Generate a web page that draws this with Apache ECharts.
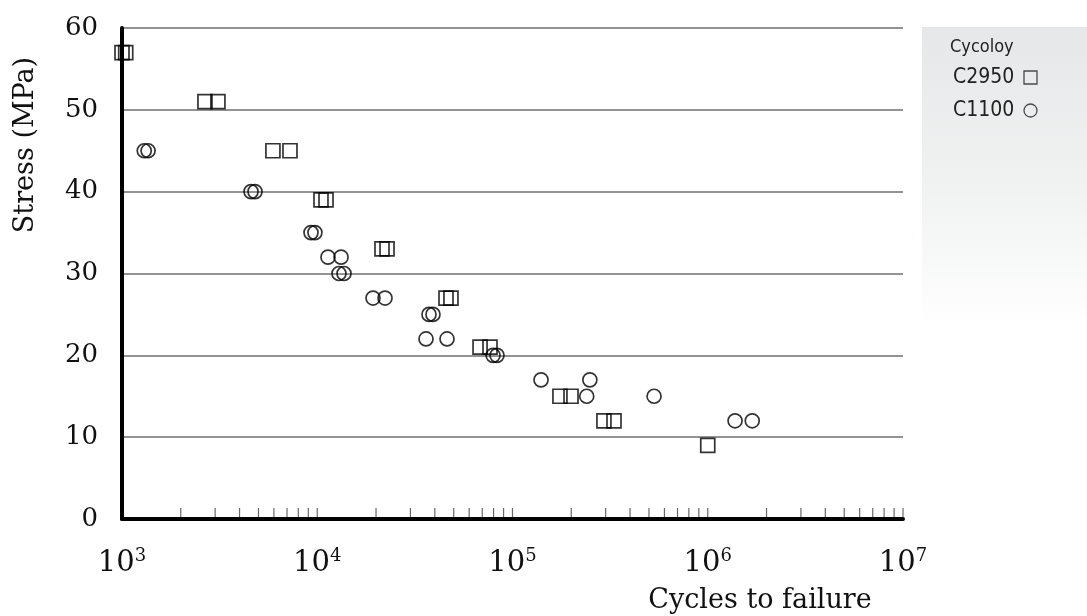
<!DOCTYPE html>
<html>
<head>
<meta charset="utf-8">
<script src="https://cdn.jsdelivr.net/npm/echarts@6/dist/echarts.min.js"></script>
<style>
html,body{margin:0;padding:0;background:#fff;}
#chart{width:1087px;height:616px;}
</style>
</head>
<body>
<div id="chart"></div>
<script>
// ---- data ----
const seriesNames = ['C2950', 'C1100'];
const legendTitle = 'Cycoloy';
const xAxisTitle = 'Cycles to failure';
const yAxisTitle = 'Stress (MPa)';

// C2950 (squares): cycles to failure, stress (MPa)
const c2950Cycles = [1000, 1045, 2660, 3100, 5930, 7250, 10450, 11090, 21460, 22770, 45650, 48400, 68200, 76700, 175000, 199400, 294000, 331000, 1000000];
const c2950Stress = [57, 57, 51, 51, 45, 45, 39, 39, 33, 33, 27, 27, 21, 21, 15, 15, 12, 12, 9];

// C1100 (circles)
const c1100Cycles = [1300, 1360, 4580, 4800, 9290, 9730, 11350, 13240, 12920, 13710, 19300, 22240, 37350, 39150, 36060, 46200, 79500, 83300, 140000, 249000, 240000, 531000, 1380000, 1690000];
const c1100Stress = [45, 45, 40, 40, 35, 35, 32, 32, 30, 30, 27, 27, 25, 25, 22, 22, 20, 20, 17, 17, 15, 15, 12, 12];

// axis ticks
const xTickExponents = [3, 4, 5, 6, 7];
const xMinorTickValues = [
  2000, 3000, 4000, 5000, 6000, 7000, 8000, 9000, 10000,
  20000, 30000, 40000, 50000, 60000, 70000, 80000, 90000, 100000,
  200000, 300000, 400000, 500000, 600000, 700000, 800000, 900000, 1000000,
  2000000, 3000000, 4000000, 5000000, 6000000, 7000000, 8000000, 9000000, 10000000
];
const yTickValues = [0, 10, 20, 30, 40, 50, 60];

// ---- build ----
const zip = (xs, ys) => xs.map((x, i) => [x, ys[i]]);
const serif = 'DejaVu Serif';
const narrow = '"Liberation Sans Narrow", "DejaVu Sans Condensed", "Roboto Condensed", sans-serif';

const chart = echarts.init(document.getElementById('chart'));
const option = {
  animation: false,
  backgroundColor: '#ffffff',
  grid: { left: 122, right: 184, top: 28, bottom: 97 },
  xAxis: {
    type: 'log',
    logBase: 10,
    min: Math.pow(10, xTickExponents[0]),
    max: Math.pow(10, xTickExponents[xTickExponents.length - 1]),
    axisLine: { show: true, onZero: false, lineStyle: { color: '#000', width: 4 } },
    axisTick: { show: false },
    splitLine: { show: false },
    minorTick: { show: false },
    axisLabel: {
      margin: 28,
      formatter: function (v) {
        const e = Math.round(Math.log10(v));
        return '{b|10}{s|' + e + '}';
      },
      rich: {
        b: { fontFamily: serif, fontSize: 29, color: '#111', lineHeight: 32 },
        s: { fontFamily: serif, fontSize: 18, color: '#111', verticalAlign: 'top', lineHeight: 18 }
      }
    }
  },
  yAxis: {
    type: 'value',
    min: yTickValues[0],
    max: yTickValues[yTickValues.length - 1],
    interval: yTickValues[1] - yTickValues[0],
    axisLine: { show: true, lineStyle: { color: '#000', width: 4 } },
    axisTick: { show: false },
    splitLine: { show: true, lineStyle: { color: '#6f6f6f', width: 1.5 } },
    axisLabel: { margin: 24, fontFamily: serif, fontSize: 26, color: '#111' }
  },
  legend: {
    orient: 'vertical',
    left: 953,
    top: 67,
    padding: 0,
    align: 'right',
    itemGap: 12,
    itemWidth: 13,
    itemHeight: 13,
    data: [
      { name: seriesNames[0], icon: 'rect' },
      { name: seriesNames[1], icon: 'circle' }
    ],
    itemStyle: { color: 'rgba(0,0,0,0)', borderColor: '#222', borderWidth: 1.3 },
    formatter: '{t|{name}}',
    textStyle: {
      fontFamily: narrow, fontSize: 21, color: '#222',
      rich: { t: { fontFamily: narrow, fontSize: 21, color: '#222', width: 66, align: 'left' } }
    }
  },
  graphic: [
    {
      type: 'rect', z: -10, silent: true,
      shape: { x: 922, y: 27, width: 165, height: 300 },
      style: {
        fill: new echarts.graphic.LinearGradient(0, 0, 0, 1, [
          { offset: 0, color: '#e6e7e8' },
          { offset: 0.55, color: '#f1f2f2' },
          { offset: 1, color: '#ffffff' }
        ])
      }
    },
    {
      type: 'text', silent: true,
      style: { text: legendTitle, x: 950, y: 47, verticalAlign: 'middle', fontFamily: narrow, fontSize: 18, fill: '#222' }
    },
    {
      type: 'text', silent: true,
      rotation: Math.PI / 2,
      x: 26, y: 145,
      style: { text: yAxisTitle, align: 'center', verticalAlign: 'middle', fontFamily: serif, fontSize: 27, fill: '#111' }
    },
    {
      type: 'text', silent: true,
      style: { text: xAxisTitle, x: 760, y: 601, align: 'center', verticalAlign: 'middle', fontFamily: serif, fontSize: 27, fill: '#111' }
    }
  ],
  series: [
    {
      name: 'ticks',
      type: 'scatter',
      silent: true,
      clip: false,
      symbol: 'rect',
      symbolSize: [1.2, 9],
      symbolOffset: [0, -6.5],
      itemStyle: { color: '#444' },
      data: xMinorTickValues.map(v => [v, 0]),
      z: 1
    },
    {
      name: seriesNames[0],
      type: 'scatter',
      clip: false,
      symbol: 'rect',
      symbolSize: 14,
      itemStyle: { color: 'rgba(0,0,0,0)', borderColor: '#000', borderWidth: 1.7 },
      data: zip(c2950Cycles, c2950Stress),
      z: 3
    },
    {
      name: seriesNames[1],
      type: 'scatter',
      clip: false,
      symbol: 'circle',
      symbolSize: 14,
      itemStyle: { color: 'rgba(0,0,0,0)', borderColor: '#000', borderWidth: 1.7 },
      data: zip(c1100Cycles, c1100Stress),
      z: 3
    }
  ]
};
chart.setOption(option);
</script>
</body>
</html>
